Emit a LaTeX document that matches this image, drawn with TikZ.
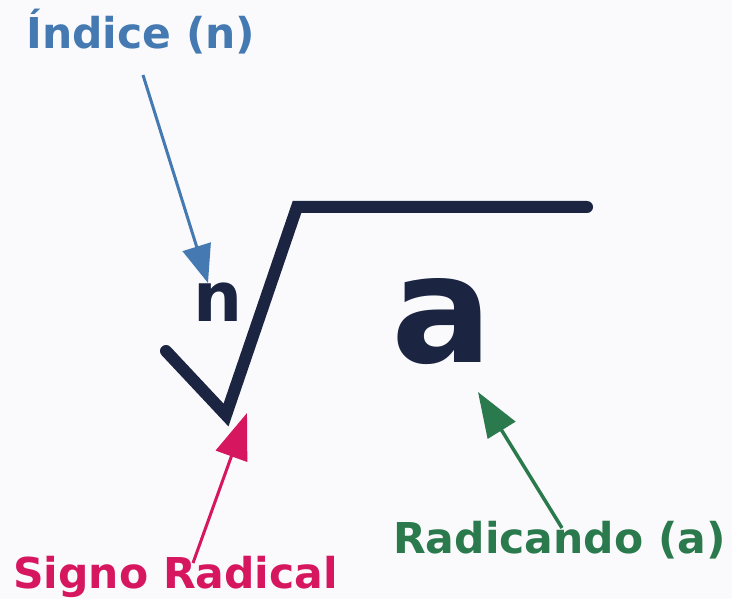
\documentclass[tikz,border=0pt]{standalone}
\usepackage{fontspec}
\setmainfont{DejaVu Sans}
\usetikzlibrary{arrows.meta}

\definecolor{hintergrund}{HTML}{FAFAFC}
\definecolor{wurzelfarbe}{HTML}{1B2441}
\definecolor{indexblau}{HTML}{4479B2}
\definecolor{zeichenrot}{HTML}{D6175F}
\definecolor{radikandgruen}{HTML}{2B7A4E}

\begin{document}
\begin{tikzpicture}[x=1pt, y=-1pt,
    beschriftung/.style={anchor=base west, inner sep=0pt,
        font=\fontsize{42.5}{42.5}\selectfont\bfseries},
    pfeil/.style={line width=3pt, -{Triangle[length=42pt, width=30pt]}}]

            % Hintergrund und Rahmen
            \fill[hintergrund] (0,0) rectangle (732,599);
            \useasboundingbox (0,0) rectangle (732,599);

            % Wurzelzeichen
            \draw[wurzelfarbe, line width=12pt, line cap=round, line join=miter]
            (166,351) -- (226,415) -- (297,207) -- (587,207);

            % Index n und Radikand a
            \node[anchor=base west, inner sep=0pt, text=wurzelfarbe,
                font=\fontsize{69}{69}\selectfont\bfseries] (index) at (193,322) {n};
            \node[anchor=base west, inner sep=0pt, text=wurzelfarbe,
                font=\fontsize{150}{150}\selectfont\bfseries] (radikand) at (391,362) {a};

            % Beschriftungen
            \node[beschriftung, text=indexblau] (lindex) at (26,49) {Índice (n)};
            \node[beschriftung, text=zeichenrot] (lzeichen) at (13,588) {Signo Radical};
            \node[beschriftung, text=radikandgruen] (lradikand) at (393,553) {Radicando (a)};

            % Anfangs- und Endpunkte der Pfeile
            \coordinate (sindex) at (143,75);
            \coordinate (tindex) at (208,283);
            \coordinate (szeichen) at (193,563);
            \coordinate (tzeichen) at (247,413);
            \coordinate (sradikand) at (562,528);
            \coordinate (tradikand) at (478,392);

            % Pfeile
            \draw[pfeil, indexblau, -{Triangle[length=38pt, width=29pt]}] (sindex) -- (tindex);
            \draw[pfeil, zeichenrot, -{Triangle[length=46pt, width=33pt]}] (szeichen) -- (tzeichen);
            \draw[pfeil, radikandgruen, line width=3.5pt, -{Triangle[length=45pt, width=32pt]}] (sradikand) -- (tradikand);

\end{tikzpicture}
\end{document}
